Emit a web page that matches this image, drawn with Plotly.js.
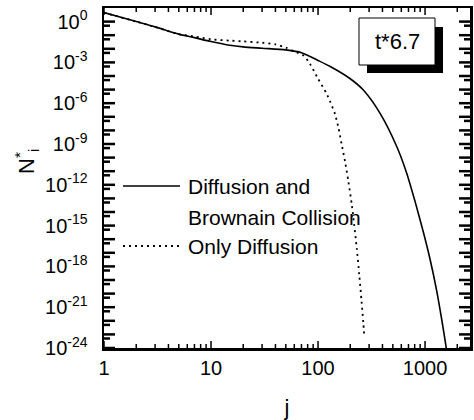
<!DOCTYPE html>
<html>
<head>
<meta charset="utf-8">
<script src="https://cdn.plot.ly/plotly-3.0.1.min.js"></script>
<style>
  html, body { margin: 0; padding: 0; background: #fff; }
  #chart { width: 474px; height: 420px; }
</style>
</head>
<body>
<div id="chart"></div>
<script>
// ---- Data ----
const jSolid = [1, 2, 3, 5, 7, 10, 15, 20, 30, 50, 70, 100, 130, 200, 265, 380, 545, 675, 805, 965, 1115, 1285, 1430, 1570, 1700];
const nSolid = [4.6, 1.0, 0.41, 0.12, 0.066, 0.034, 0.018, 0.0138, 0.011, 0.0083, 0.0052, 0.0014, 5e-4, 6.3e-5, 9.3e-6, 1.8e-7, 6.3e-10, 6.9e-12, 6.3e-14, 3.2e-16, 3.2e-18, 1.6e-20, 1.3e-22, 1.3e-24, 2e-26];

const jDotted = [1, 2, 3, 5, 7, 10, 15, 20, 30, 40, 50, 60, 73, 84, 100, 120, 129, 144, 155, 166, 179, 192, 207, 217, 230, 243, 255, 265, 270];
const nDotted = [4.6, 1.0, 0.41, 0.12, 0.08, 0.05, 0.04, 0.035, 0.028, 0.021, 0.0123, 0.0063, 0.0032, 7.9e-4, 6.3e-5, 5.2e-6, 1.5e-6, 1.6e-7, 1.6e-8, 1e-9, 5e-11, 1.8e-12, 3.2e-14, 1.4e-15, 2.2e-17, 2.2e-19, 2.8e-21, 7e-23, 8e-24];

const seriesNames = ["Diffusion and", "Brownain Collision", "Only Diffusion"];
const boxLabel = "t*6.7";

// ---- Ticks ----
const xTickVals = [1, 10, 100, 1000];
const xTickText = ["1", "10", "100", "1000"];
const xMinorVals = [2,3,4,5,6,7,8,9,20,30,40,50,60,70,80,90,200,300,400,500,600,700,800,900,2000];

const yTickVals = [1e0,1e-1,1e-2,1e-3,1e-4,1e-5,1e-6,1e-7,1e-8,1e-9,1e-10,1e-11,1e-12,1e-13,1e-14,1e-15,1e-16,1e-17,1e-18,1e-19,1e-20,1e-21,1e-22,1e-23,1e-24];
const yTickText = ["10<sup>0</sup>","","","10<sup>-3</sup>","","","10<sup>-6</sup>","","","10<sup>-9</sup>","","","10<sup>-12</sup>","","","10<sup>-15</sup>","","","10<sup>-18</sup>","","","10<sup>-21</sup>","","","10<sup>-24</sup>"];
const yMinorVals = [5e-1,5e-2,5e-3,5e-4,5e-5,5e-6,5e-7,5e-8,5e-9,5e-10,5e-11,5e-12,5e-13,5e-14,5e-15,5e-16,5e-17,5e-18,5e-19,5e-20,5e-21,5e-22,5e-23,5e-24];

const FONT = "Liberation Sans, Arial, sans-serif";
const X_RANGE = [0, 3.42];
const Y_RANGE = [-24, 1];

// paper helpers: plot area is 104..470 x 8..348 px
const W = 474, H = 420, L = 104, R = 4, T = 8, B = 72;
const pw = W - L - R, ph = H - T - B;
const px = v => (v - L) / pw;
const py = v => (H - B - v) / ph;
// fraction of the y axis at which a log-axis value sits
const yFrac = v => (Math.log10(v) - Y_RANGE[0]) / (Y_RANGE[1] - Y_RANGE[0]);

const traces = [
  { x: jSolid, y: nSolid, mode: "lines", name: seriesNames[0] + " " + seriesNames[1],
    line: { color: "#000", width: 1.6, shape: "spline", smoothing: 0.7 }, showlegend: false, hoverinfo: "skip" },
  { x: jDotted, y: nDotted, mode: "lines", name: seriesNames[2],
    line: { color: "#000", width: 1.8, dash: "2px,4px", shape: "spline", smoothing: 0.7 }, showlegend: false, hoverinfo: "skip" }
];

// tick marks (inside, mirrored on all four sides)
const tickShapes = [];
function xTick(v, len, w) {
  tickShapes.push({ type: "line", xref: "x", yref: "paper", ysizemode: "pixel", yanchor: 0,
    x0: v, x1: v, y0: 0, y1: len, line: { color: "#000", width: w } });
  tickShapes.push({ type: "line", xref: "x", yref: "paper", ysizemode: "pixel", yanchor: 1,
    x0: v, x1: v, y0: 0, y1: -len, line: { color: "#000", width: w } });
}
function yTick(v, len, w) {
  const f = yFrac(v);
  tickShapes.push({ type: "line", xref: "paper", yref: "paper",
    x0: 0, x1: len / pw, y0: f, y1: f, line: { color: "#000", width: w } });
  tickShapes.push({ type: "line", xref: "paper", yref: "paper",
    x0: 1, x1: 1 - len / pw, y0: f, y1: f, line: { color: "#000", width: w } });
}
xTickVals.forEach(v => xTick(v, 7, 1.5));
xMinorVals.forEach(v => xTick(v, 4, 1.5));
yTickVals.forEach(v => yTick(v, 11, 2.5));
yMinorVals.forEach(v => yTick(v, 6, 2.5));

const layout = {
  width: W, height: H,
  margin: { l: L, r: R, t: T, b: B },
  paper_bgcolor: "#fff", plot_bgcolor: "#fff",
  font: { family: FONT, color: "#000", size: 20 },
  showlegend: false,
  xaxis: {
    type: "log", range: X_RANGE,
    tickmode: "array", tickvals: xTickVals, ticktext: xTickText,
    ticks: "",
    showline: true, linewidth: 2.5, linecolor: "#000", mirror: true,
    showgrid: false, zeroline: false,
    tickfont: { family: FONT, size: 20 },
    title: { text: "j", font: { family: FONT, size: 22 }, standoff: 30 }
  },
  yaxis: {
    type: "log", range: Y_RANGE,
    tickmode: "array", tickvals: yTickVals, ticktext: yTickText,
    ticks: "",
    showline: true, linewidth: 2.5, linecolor: "#000", mirror: true,
    showgrid: false, zeroline: false,
    tickfont: { family: FONT, size: 20 },
    ticklabelstandoff: 10
  },
  shapes: tickShapes.concat([
    // inset label shadow + box
    { type: "rect", xref: "paper", yref: "paper", x0: px(367), x1: px(443), y0: py(73), y1: py(27),
      fillcolor: "#000", line: { width: 0 } },
    { type: "rect", xref: "paper", yref: "paper", x0: px(359), x1: px(435), y0: py(65), y1: py(18),
      fillcolor: "#fff", line: { color: "#000", width: 1 } },
    // legend samples
    { type: "line", xref: "paper", yref: "paper", x0: px(123), x1: px(180), y0: py(186), y1: py(186),
      line: { color: "#000", width: 1.6 } },
    { type: "line", xref: "paper", yref: "paper", x0: px(123), x1: px(180), y0: py(246), y1: py(246),
      line: { color: "#000", width: 1.8, dash: "2px,4px" } }
  ]),
  annotations: [
    { xref: "paper", yref: "paper", x: px(397), y: py(41.5), text: boxLabel, showarrow: false,
      xanchor: "center", yanchor: "middle", font: { family: FONT, size: 22 } },
    { xref: "paper", yref: "paper", x: px(186), y: py(186), text: seriesNames[0], showarrow: false,
      xanchor: "left", yanchor: "middle", font: { family: FONT, size: 21 } },
    { xref: "paper", yref: "paper", x: px(186), y: py(217), text: seriesNames[1], showarrow: false,
      xanchor: "left", yanchor: "middle", font: { family: FONT, size: 21 } },
    { xref: "paper", yref: "paper", x: px(186), y: py(247), text: seriesNames[2], showarrow: false,
      xanchor: "left", yanchor: "middle", font: { family: FONT, size: 21 } },
    { xref: "paper", yref: "paper", x: px(27), y: py(162), text: "N<sup>*</sup><sub>i</sub>", showarrow: false,
      textangle: -90, xanchor: "center", yanchor: "middle", font: { family: FONT, size: 22 } }
  ]
};

Plotly.newPlot("chart", traces, layout, { staticPlot: true, displayModeBar: false });
</script>
</body>
</html>
